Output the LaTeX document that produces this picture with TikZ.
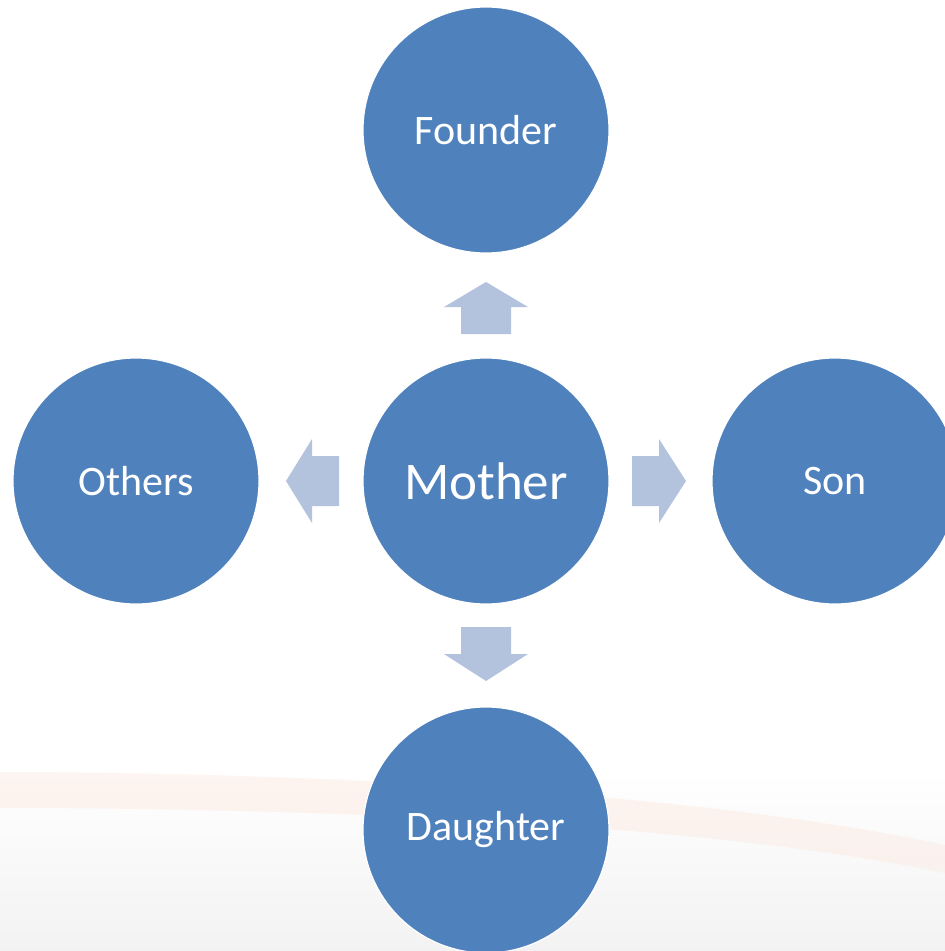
\documentclass[tikz,border=0pt]{standalone}
\usepackage{fontspec}
\setmainfont{Carlito}
\definecolor{circblue}{HTML}{4F81BD}
\definecolor{arrblue}{HTML}{B3C3DE}
\definecolor{swoosh}{HTML}{FCE9E0}
\begin{document}
\begin{tikzpicture}[x=1pt,y=-1pt,
  circ/.style={circle,fill=circblue,draw=white,line width=1.2pt,minimum size=246pt,inner sep=0pt,text=white,font=\fontsize{42}{48}\selectfont},
  bigtext/.style={font=\fontsize{53}{60}\selectfont},
  blockarrow/.style={fill=arrblue,draw=none}]
\useasboundingbox (0,0) rectangle (945,951);
% background
\shade[top color=white,bottom color=black!5] (0,770) rectangle (945,951);
\fill[swoosh,opacity=0.45] (0,772) .. controls (300,772) and (700,792) .. (945,845) -- (945,873) .. controls (700,822) and (300,808) .. (0,808) -- cycle;
% circles
\node[circ] (founder) at (486,130) {Founder};
\node[circ,bigtext] (mother) at (486,481) {Mother};
\node[circ] (others) at (136,481) {Others};
\node[circ] (son) at (835,481) {Son};
\node[circ] (daughter) at (486,830) {Daughter};
% block arrows (up, down, left, right) placed relative to mother
\fill[blockarrow] ([shift={(-25,-147)}]mother.center) -- ++(0,-27) -- ++(-17,0) -- ([shift={(0,-199)}]mother.center) -- ([shift={(42,-174)}]mother.center) -- ++(-17,0) -- ++(0,27) -- cycle;
\fill[blockarrow] ([shift={(-25,146)}]mother.center) -- ++(0,27) -- ++(-17,0) -- ([shift={(0,200)}]mother.center) -- ([shift={(42,173)}]mother.center) -- ++(-17,0) -- ++(0,-27) -- cycle;
\fill[blockarrow] ([shift={(-147,-25)}]mother.center) -- ++(-27,0) -- ++(0,-17) -- ([shift={(-200,0)}]mother.center) -- ([shift={(-174,42)}]mother.center) -- ++(0,-17) -- ++(27,0) -- cycle;
\fill[blockarrow] ([shift={(146,-25)}]mother.center) -- ++(27,0) -- ++(0,-17) -- ([shift={(200,0)}]mother.center) -- ([shift={(173,42)}]mother.center) -- ++(0,-17) -- ++(-27,0) -- cycle;
\end{tikzpicture}
\end{document}
